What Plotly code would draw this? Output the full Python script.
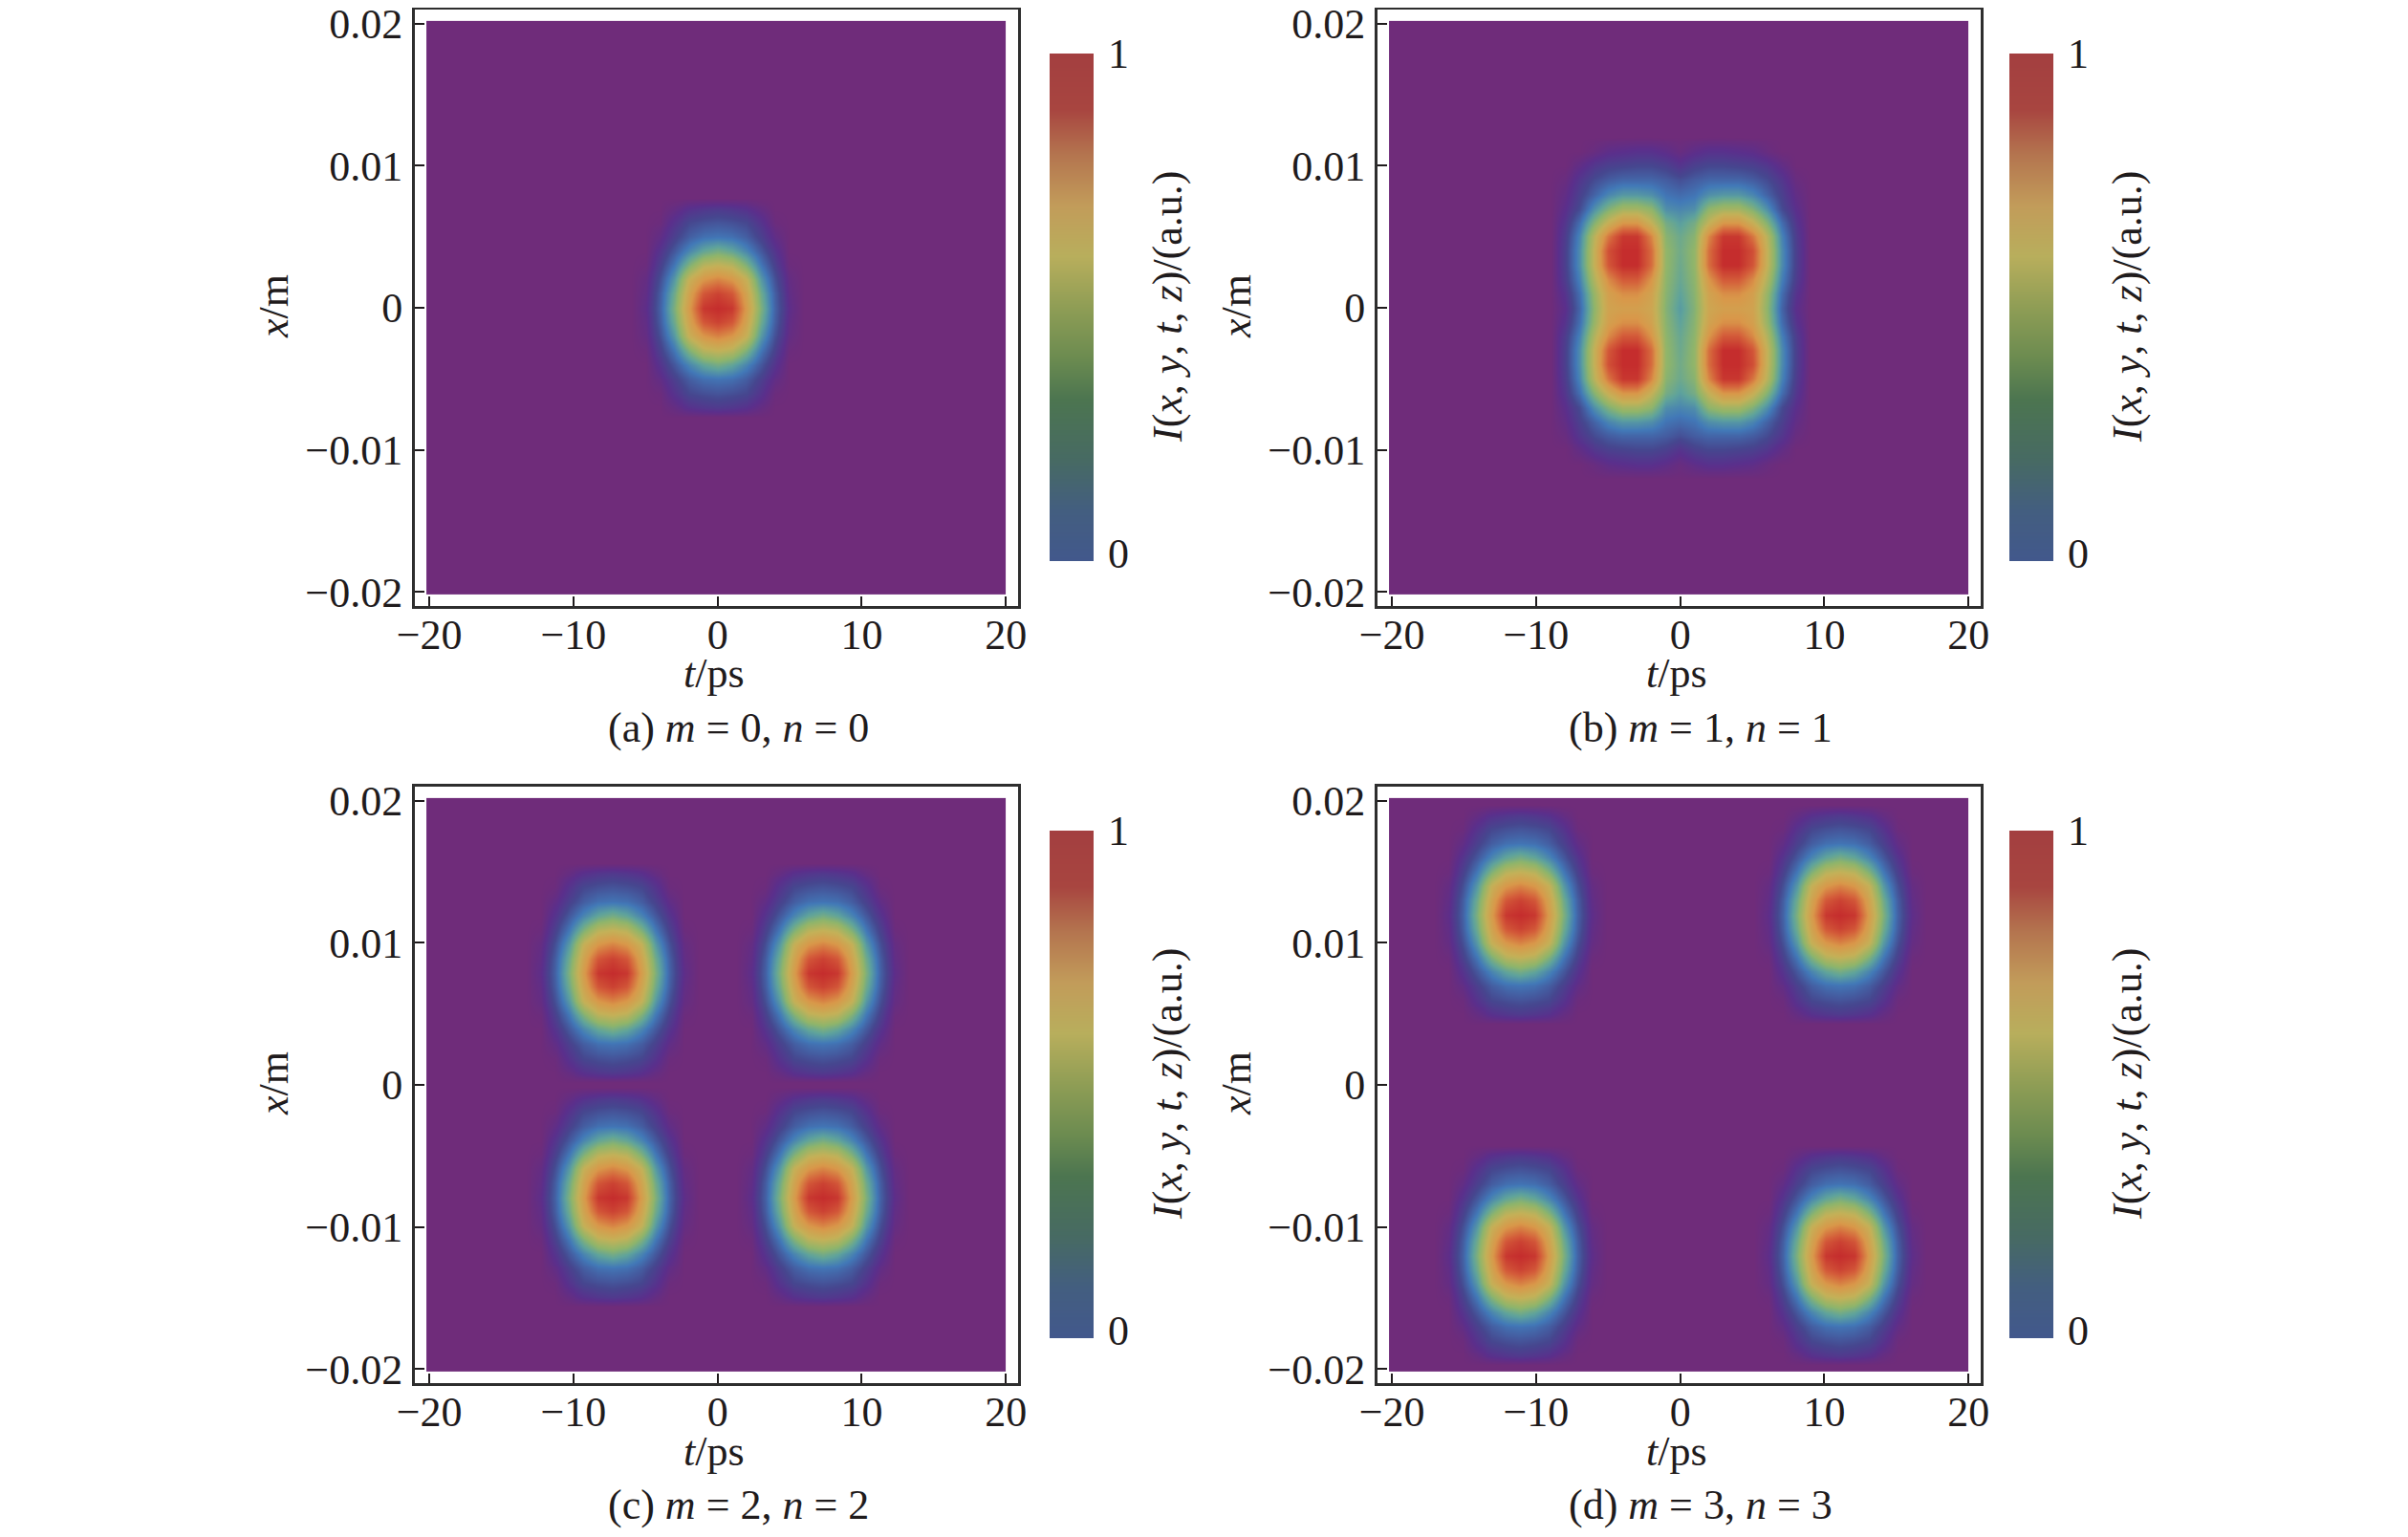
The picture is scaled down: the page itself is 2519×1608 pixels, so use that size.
import plotly.graph_objects as go

# picture size
W = 2519
H = 1608

# axes
t_ticks = [-20, -10, 0, 10, 20]
t_labels = ["−20", "−10", "0", "10", "20"]
x_ticks = [-0.02, -0.01, 0, 0.01, 0.02]
x_labels = ["−0.02", "−0.01", "0", "0.01", "0.02"]
t_limits = [-20.2, 20]
x_limits = [-0.0202, 0.0202]

captions = ["(a) <i>m</i> = 0, <i>n</i> = 0", "(b) <i>m</i> = 1, <i>n</i> = 1",
            "(c) <i>m</i> = 2, <i>n</i> = 2", "(d) <i>m</i> = 3, <i>n</i> = 3"]

# single spot, one quarter: rows |x|, columns |t|
blob_t = [0, 1, 2, 3, 4, 5, 6]
blob_x = [0, 0.001, 0.002, 0.003, 0.004, 0.005, 0.006, 0.007, 0.0077]
blob_z = [
    [1.00, 0.97, 0.70, 0.42, 0.20, 0.05, 0],
    [0.94, 0.88, 0.66, 0.39, 0.19, 0.04, 0],
    [0.77, 0.72, 0.59, 0.33, 0.16, 0.03, 0],
    [0.58, 0.55, 0.42, 0.25, 0.12, 0.01, 0],
    [0.40, 0.36, 0.28, 0.18, 0.08, 0, 0],
    [0.24, 0.23, 0.19, 0.12, 0.04, 0, 0],
    [0.17, 0.16, 0.14, 0.08, 0.01, 0, 0],
    [0.10, 0.09, 0.07, 0.03, 0, 0, 0],
    [0, 0, 0, 0, 0, 0, 0],
]

# where the spots sit in panels (a), (c), (d)
spots_a_t, spots_a_x = [0], [0]
spots_c_t, spots_c_x = [-7.3, 7.3], [-0.0079, 0.0079]
spots_d_t, spots_d_x = [-11.1, 11.1], [-0.012, 0.012]

# panel (b) spots run together, quarter
merged_t = [0, 1, 2, 3, 4, 5, 6, 7, 8, 9]
merged_x = [0, 0.001, 0.002, 0.003, 0.004, 0.005, 0.006, 0.007, 0.008, 0.009, 0.010, 0.011, 0.012]
merged_z = [
    [0.33, 0.43, 0.64, 0.68, 0.68, 0.66, 0.45, 0.21, 0.06, 0],
    [0.35, 0.44, 0.66, 0.74, 0.74, 0.68, 0.47, 0.23, 0.08, 0],
    [0.37, 0.45, 0.72, 0.87, 0.87, 0.75, 0.53, 0.27, 0.11, 0],
    [0.38, 0.46, 0.82, 1.00, 1.00, 0.88, 0.58, 0.30, 0.12, 0],
    [0.39, 0.46, 0.82, 1.00, 1.00, 0.90, 0.58, 0.30, 0.12, 0],
    [0.38, 0.44, 0.76, 0.97, 0.97, 0.80, 0.55, 0.28, 0.11, 0],
    [0.34, 0.40, 0.58, 0.72, 0.72, 0.60, 0.43, 0.23, 0.09, 0],
    [0.28, 0.30, 0.45, 0.50, 0.50, 0.42, 0.30, 0.15, 0.06, 0],
    [0.22, 0.24, 0.30, 0.32, 0.32, 0.28, 0.20, 0.12, 0.04, 0],
    [0.16, 0.19, 0.21, 0.21, 0.21, 0.19, 0.15, 0.09, 0.02, 0],
    [0.08, 0.12, 0.14, 0.14, 0.13, 0.12, 0.09, 0.04, 0, 0],
    [0.02, 0.05, 0.07, 0.07, 0.06, 0.05, 0.02, 0, 0, 0],
    [0, 0, 0, 0, 0, 0, 0, 0, 0, 0],
]

# colours of the field and the (more muted) colour bar
heat_scale = [[0, "#6F2C7A"], [0.06, "#5B2F8C"], [0.14, "#46478F"], [0.25, "#4279B8"],
              [0.35, "#5FA39C"], [0.45, "#8FB56B"], [0.58, "#C4B158"], [0.72, "#D9984A"],
              [0.86, "#D45D3A"], [1, "#C52D2D"]]
bar_scale = [[0, "#42588C"], [0.10, "#435E80"], [0.20, "#476A63"], [0.32, "#4C7550"],
             [0.40, "#6B8B50"], [0.50, "#8E9D55"], [0.60, "#B8AE5C"], [0.70, "#C29C5A"],
             [0.80, "#B4754F"], [0.89, "#A84540"], [1, "#A33F40"]]
bar_levels = [0, 0.1, 0.2, 0.3, 0.4, 0.5, 0.6, 0.7, 0.8, 0.9, 1]

FONT = "Liberation Serif"
INK = "#1F1B1C"
SIZE = 44
PAGE = 8  # the page's own margin


def full(values):
    # quarter offsets -> both sides
    return [-v for v in values[:0:-1]] + list(values)


def full_z(rows):
    both = rows[:0:-1] + rows
    return [r[:0:-1] + r for r in both]


def px_x(p):
    return (p - PAGE) / W


def px_y(p):
    return 1 - (p - PAGE) / H


fig = go.Figure()
notes = []

for i in range(4):
    col = i % 2
    row = i // 2
    dx = 1007 * col
    dy = 813 * row
    bx = 1004 * col
    n = i * 2 + 1
    xa = "x" if n == 1 else f"x{n}"
    ya = "y" if n == 1 else f"y{n}"

    fig.update_layout({
        f"xaxis{n}": dict(domain=[px_x(434 + dx), px_x(1065 + dx)], range=[-21, 20.85],
                          anchor=ya, tickvals=t_ticks, ticktext=t_labels, ticks="inside",
                          ticklen=10, tickwidth=2, tickcolor=INK, showline=True, mirror=True,
                          linewidth=3, linecolor="#2E2E2E", showgrid=False, zeroline=False,
                          automargin=False, ticklabelstandoff=-11, ticklabeloverflow="allow",
                          tickfont=dict(family=FONT, size=SIZE, color=INK)),
        f"yaxis{n}": dict(domain=[px_y(634 + dy), px_y(10 + dy)], range=[-0.021, 0.021],
                          anchor=xa, tickvals=x_ticks, ticktext=x_labels, ticks="inside",
                          ticklen=10, tickwidth=2, tickcolor=INK, showline=True, mirror=True,
                          linewidth=3, linecolor="#2E2E2E", showgrid=False, zeroline=False,
                          ticklabelstandoff=1, automargin=False, ticklabeloverflow="allow",
                          tickfont=dict(family=FONT, size=SIZE, color=INK)),
        f"xaxis{n + 1}": dict(domain=[px_x(1098 + bx), px_x(1144 + bx)], range=[0, 1],
                              anchor=f"y{n + 1}", visible=False, automargin=False),
        f"yaxis{n + 1}": dict(domain=[px_y(587 + dy), px_y(56 + dy)], range=[0, 1],
                              anchor=f"x{n + 1}", side="right", tickvals=[0.015, 1],
                              ticktext=["0", "1"], ticks="", showgrid=False, zeroline=False,
                              showline=False, ticklabelstandoff=14, automargin=False,
                              ticklabeloverflow="allow",
                              tickfont=dict(family=FONT, size=SIZE, color=INK)),
    })

    # purple field
    fig.add_trace(go.Heatmap(x=t_limits, y=x_limits, z=[[0]], zmin=0, zmax=1,
                             colorscale=heat_scale, showscale=False, xaxis=xa, yaxis=ya))

    # colour bar
    fig.add_trace(go.Heatmap(x=[0, 1], y=bar_levels, z=[[v, v] for v in bar_levels],
                             zmin=0, zmax=1, zsmooth="best", colorscale=bar_scale,
                             showscale=False, xaxis=f"x{n + 1}", yaxis=f"y{n + 1}"))

    # spots
    if i == 1:
        fig.add_trace(go.Heatmap(x=full(merged_t), y=full(merged_x), z=full_z(merged_z),
                                 zmin=0, zmax=1, zsmooth="best", colorscale=heat_scale,
                                 showscale=False, xaxis=xa, yaxis=ya))
    else:
        centres_t = [spots_a_t, None, spots_c_t, spots_d_t][i]
        centres_x = [spots_a_x, None, spots_c_x, spots_d_x][i]
        for ct in centres_t:
            for cx in centres_x:
                fig.add_trace(go.Heatmap(x=[ct + v for v in full(blob_t)],
                                         y=[cx + v for v in full(blob_x)],
                                         z=full_z(blob_z), zmin=0, zmax=1, zsmooth="best",
                                         colorscale=heat_scale, showscale=False,
                                         xaxis=xa, yaxis=ya))

    # titles and caption as plain text
    notes.append(dict(x=px_x(747 + dx), y=px_y(705 + dy), text="<i>t</i>/ps"))
    notes.append(dict(x=px_x(772 + dx), y=px_y(761 + dy), text=captions[i]))
    notes.append(dict(x=px_x(286 + dx), y=px_y(321 + dy), text="<i>x</i>/m", textangle=-90))
    notes.append(dict(x=px_x(1221 + bx), y=px_y(321 + dy),
                      text="<i>I</i>(<i>x</i>, <i>y</i>, <i>t</i>, <i>z</i>)/(a.u.)", textangle=-90))

for note in notes:
    note.update(xref="paper", yref="paper", showarrow=False, xanchor="center", yanchor="middle",
                font=dict(family=FONT, size=SIZE, color=INK))

fig.update_layout(width=W, height=H, margin=dict(l=0, r=0, t=0, b=0),
                  paper_bgcolor="white", plot_bgcolor="white", showlegend=False,
                  annotations=notes)

fig.write_html("out.html")
